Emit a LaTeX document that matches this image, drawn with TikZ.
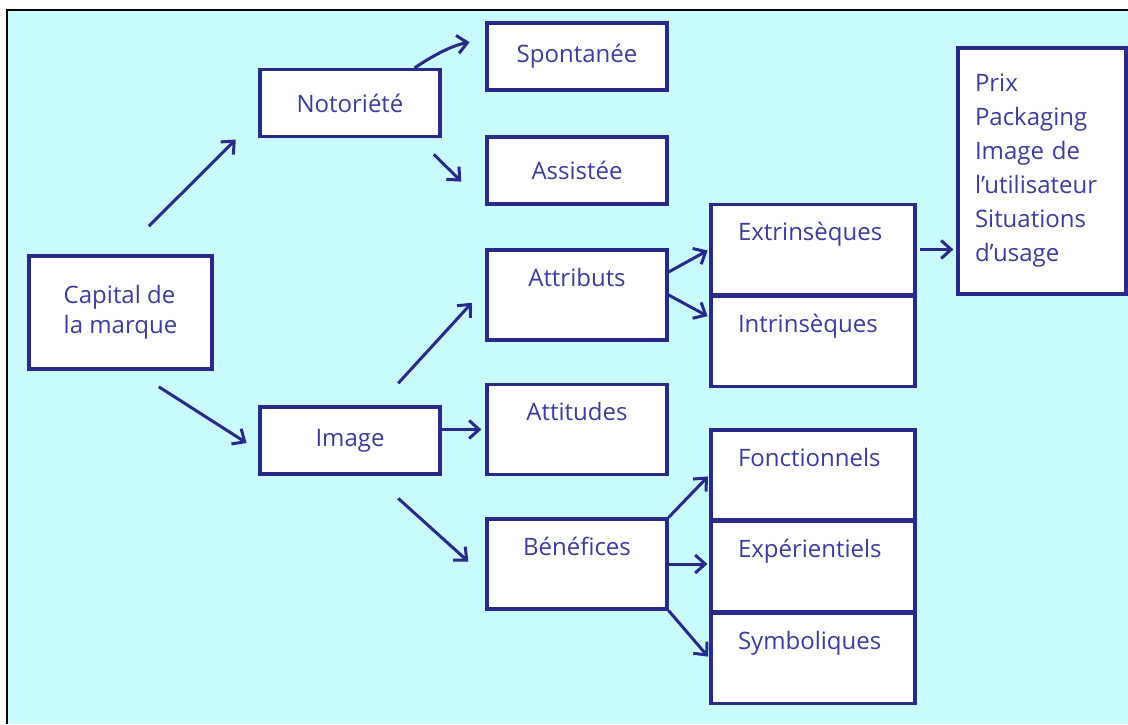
\documentclass[tikz,border=0pt]{standalone}
\usepackage{fontspec}
\setmainfont{Open Sans}
\usepackage{xcolor}
\usepackage{tikz}
\usetikzlibrary{arrows.meta,positioning}
\definecolor{bgcyan}{HTML}{C9FBFC}
\definecolor{navy}{HTML}{29298A}
\definecolor{ink}{HTML}{3C3C9C}

\begin{document}
\begin{tikzpicture}[x=1pt,y=-1pt,
  comp/.style={rectangle,draw=navy,line width=3.2pt,fill=white,text=ink,align=center,inner sep=0pt,minimum width=180pt,minimum height=67pt,font=\fontsize{24}{30}\selectfont},
  tall/.style={comp,minimum height=90pt,text height=16pt,text depth=34pt},
  side/.style={tall,minimum width=204pt,text width=150pt,align=left},
  arr/.style={draw=navy,line width=3pt,-{Straight Barb[length=10pt,width=18pt]}}
]
\useasboundingbox (0,0) rectangle (1128,724);
\fill[bgcyan] (7,10) rectangle (1128,724);
\draw[line width=2.2pt] (7,724) -- (7,10) -- (1128,10);

\node[comp, minimum width=183pt, minimum height=113pt, align=left] (cap) at (120.5,312.5) {Capital de\\la marque};
\node[comp] (noto) at (350,103) {Notoriété};
\node[comp] (spon) at (577,56.5) {Spontanée};
\node[comp] (assist) at (577,170.5) {Assistée};
\node[tall] (attr) at (577,295) {Attributs};
\node[comp] (image) at (350,440.5) {Image};
\node[tall] (attit) at (577,429.5) {Attitudes};
\node[tall] (benef) at (577,564) {Bénéfices};
\node[side] (extr) at (813,249.5) {Extrinsèques};
\node[side, below=-1.6pt of extr] (intr) {Intrinsèques};
\node[side] (fonc) at (813,475) {Fonctionnels};
\node[side, below=-1.6pt of fonc] (expe) {Expérientiels};
\node[side, below=-1.6pt of expe] (symb) {Symboliques};
\node[comp, minimum width=168pt, minimum height=246pt, text width=134pt, align=left, font=\fontsize{24}{34}\selectfont] (prix) at (1042,171) {Prix\\Packaging\\Image de\\l’utilisateur\\Situations\\d’usage};

\draw[arr, shorten <=40pt, shorten >=32pt] (cap.north) -- ([yshift=-14pt]noto.west);
\draw[arr, shorten <=30pt, shorten >=14pt] ([xshift=13pt]cap.south) -- ([yshift=-10pt]image.west);
\draw[arr, shorten >=16pt] ([xshift=-27pt]noto.north east) to[bend left=12] ([yshift=17pt]spon.west);
\draw[arr, shorten <=23pt, shorten >=34pt] ([xshift=-24pt]noto.south east) -- (assist.south west);
\draw[arr, shorten <=30pt, shorten >=20pt] ([xshift=28pt]image.north) -- ([yshift=7pt]attr.west);
\draw[arr, shorten >=4pt] (image.east |- attit.west) -- (attit.west);
\draw[arr, shorten <=34pt, shorten >=23pt] ([xshift=23pt]image.south) -- ([yshift=-13pt]benef.west);
\draw[arr, shorten >=2pt] ([yshift=23pt]attr.east) -- (extr.west);
\draw[arr, shorten >=2pt] (attr.east) -- ([yshift=24pt]intr.west);
\draw[arr, shorten <=3pt, shorten >=3pt] (extr.east) -- (prix.west |- extr.east);
\draw[arr, shorten >=2pt] (benef.north east) -- (fonc.west);
\draw[arr, shorten >=2pt] (benef.east) -- (expe.west |- benef.east);
\draw[arr, shorten >=2pt] (benef.south east) -- (symb.west);
\end{tikzpicture}
\end{document}
